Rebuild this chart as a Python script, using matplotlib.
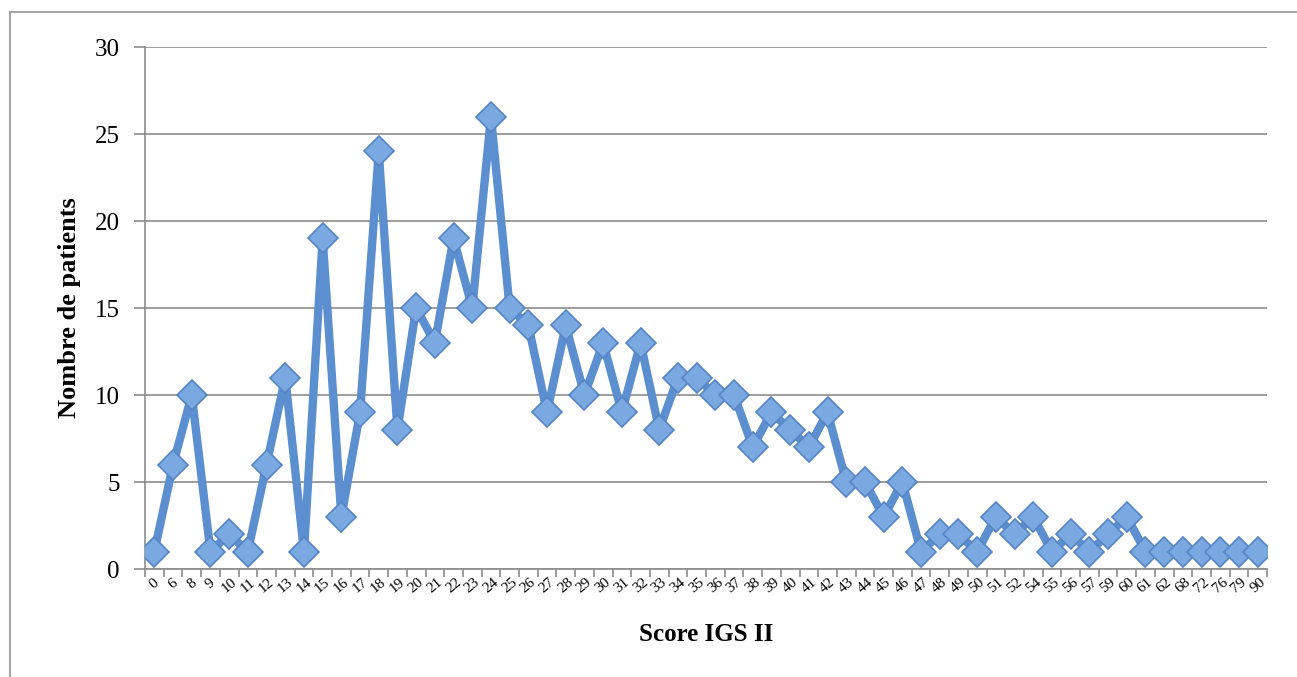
import matplotlib
matplotlib.use("Agg")
import matplotlib.pyplot as plt
from matplotlib.patches import Rectangle
import numpy as np

# Score IGS II categories and patient counts
scores = ["0", "6", "8", "9", "10", "11", "12", "13", "14", "15", "16", "17",
          "18", "19", "20", "21", "22", "23", "24", "25", "26", "27", "28", "29",
          "30", "31", "32", "33", "34", "35", "36", "37", "38", "39", "40", "41",
          "42", "43", "44", "45", "46", "47", "48", "49", "50", "51", "52", "54",
          "55", "56", "57", "59", "60", "61", "62", "68", "72", "76", "79", "90"]
patients = [1, 6, 10, 1, 2, 1, 6, 11, 1, 19, 3, 9,
            24, 8, 15, 13, 19, 15, 26, 15, 14, 9, 14, 10,
            13, 9, 13, 8, 11, 11, 10, 10, 7, 9, 8, 7,
            9, 5, 5, 3, 5, 1, 2, 2, 1, 3, 2, 3,
            1, 2, 1, 2, 3, 1, 1, 1, 1, 1, 1, 1]
y_ticks = [0, 5, 10, 15, 20, 25, 30]

plt.rcParams["font.family"] = ["Liberation Serif", "DejaVu Serif"]

fig = plt.figure(figsize=(12.97, 6.77), dpi=100)
# outer chart frame (open on the right/bottom, as in the cropped original)
fig.patches.append(Rectangle((10 / 1297, -0.1), 1.2, 1 - 12 / 677 + 0.1,
                             transform=fig.transFigure, fill=False,
                             edgecolor="#a6a6a6", linewidth=1.5))

ax = fig.add_axes([145 / 1297, 1 - 569 / 677, (1267 - 145) / 1297, (569 - 47) / 677])

x = np.arange(len(scores))
ax.plot(x, patients, color="#5b8fcf", linewidth=6, solid_joinstyle="round",
        solid_capstyle="round",
        marker="D", markersize=15, markerfacecolor="#7aa8e0",
        markeredgecolor="#5585c4", markeredgewidth=1.2, zorder=3)

ax.set_xlim(-0.5, len(scores) - 0.5)
ax.set_ylim(0, 30)
ax.set_yticks(y_ticks)
ax.set_yticklabels([str(v) for v in y_ticks], fontsize=18)
ax.tick_params(axis="y", length=8, color="#8c8c8c", width=1.2, pad=10)

ax.set_xticks(x)
ax.set_xticklabels(scores, rotation=40, fontsize=11, ha="center", va="top")
ax.set_xticks(np.arange(-0.5, len(scores), 1), minor=True)
ax.tick_params(axis="x", which="major", length=0, pad=5)
ax.tick_params(axis="x", which="minor", length=6, color="#8c8c8c", width=1.2)

ax.grid(axis="y", color="#8c8c8c", linewidth=1.2)
ax.set_axisbelow(True)
for side in ["top", "right"]:
    ax.spines[side].set_visible(False)
for side in ["left", "bottom"]:
    ax.spines[side].set_color("#8c8c8c")
    ax.spines[side].set_linewidth(1.2)

ax.set_xlabel("Score IGS II", fontsize=18, fontweight="bold", labelpad=20)
ax.set_ylabel("Nombre de patients", fontsize=19, fontweight="bold", labelpad=10)

fig.savefig("out.png", dpi=100)
